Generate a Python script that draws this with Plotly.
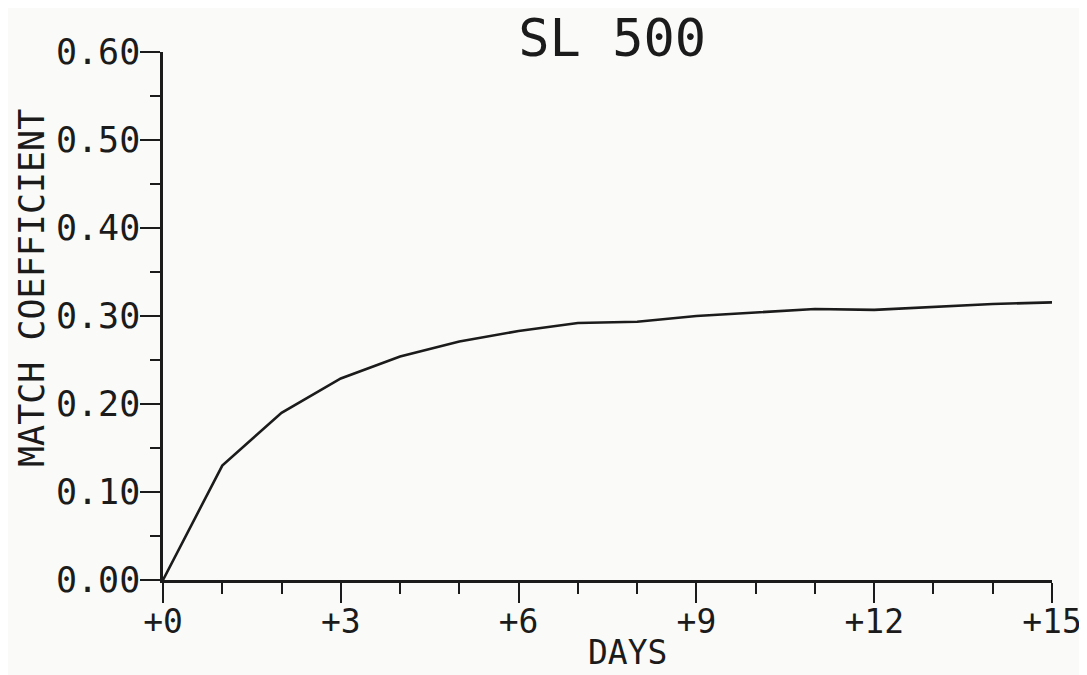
import plotly.graph_objects as go

days = [0, 1, 2, 3, 4, 5, 6, 7, 8, 9, 10, 11, 12, 13, 14, 15]
match_coef = [0.000, 0.130, 0.190, 0.229, 0.254, 0.271, 0.283, 0.292, 0.2935, 0.300,
              0.304, 0.308, 0.307, 0.310, 0.3136, 0.3155]

x_tickvals = [0, 3, 6, 9, 12, 15]
x_ticktext = ["+0", "+3", "+6", "+9", "+12", "+15"]
y_tickvals = [0.0, 0.1, 0.2, 0.3, 0.4, 0.5, 0.6]
y_ticktext = ["0.00", "0.10", "0.20", "0.30", "0.40", "0.50", "0.60"]

FONT = "DejaVu Sans Mono"
INK = "#1b1b1b"
BG = "#fafaf8"

fig = go.Figure()
fig.add_trace(go.Scatter(x=days, y=match_coef, mode="lines",
                         line=dict(color=INK, width=2.6), showlegend=False))

fig.update_layout(
    width=1079, height=667,
    margin=dict(l=155, r=35, t=44, b=95, autoexpand=False),
    paper_bgcolor=BG, plot_bgcolor=BG,
    title=dict(text="SL 500", x=0.56, xanchor="center", y=0.955, yanchor="middle",
               font=dict(family=FONT, size=52, color=INK)),
    font=dict(family=FONT, color=INK),
    annotations=[
        dict(text="MATCH COEFFICIENT", xref="paper", yref="paper", x=-0.1474, y=0.553,
             xanchor="center", yanchor="middle", textangle=-90, showarrow=False,
             font=dict(family=FONT, size=35, color=INK)),
        dict(text="DAYS", xref="paper", yref="paper", x=0.523, y=-0.1364,
             xanchor="center", yanchor="middle", showarrow=False,
             font=dict(family=FONT, size=33, color=INK)),
    ],
)

fig.update_xaxes(
    range=[0, 15], showgrid=False, zeroline=False, automargin=False,
    showline=True, linecolor=INK, linewidth=2.5,
    tickmode="array", tickvals=x_tickvals, ticktext=x_ticktext,
    ticks="outside", ticklen=20, tickwidth=1.5, tickcolor=INK,
    tickfont=dict(family=FONT, size=33, color=INK), ticklabelstandoff=-9,
    minor=dict(dtick=1, tick0=0, ticks="outside", ticklen=11, tickwidth=1.5, tickcolor=INK),
)
fig.update_yaxes(
    range=[0, 0.6], showgrid=False, zeroline=False, automargin=False,
    showline=True, linecolor=INK, linewidth=2.5,
    tickmode="array", tickvals=y_tickvals, ticktext=y_ticktext,
    ticks="outside", ticklen=20, tickwidth=1.5, tickcolor=INK,
    tickfont=dict(family=FONT, size=35, color=INK), ticklabelstandoff=-7,
    minor=dict(dtick=0.05, tick0=0, ticks="outside", ticklen=10, tickwidth=1.5, tickcolor=INK),
)

fig.write_html("out.html")
